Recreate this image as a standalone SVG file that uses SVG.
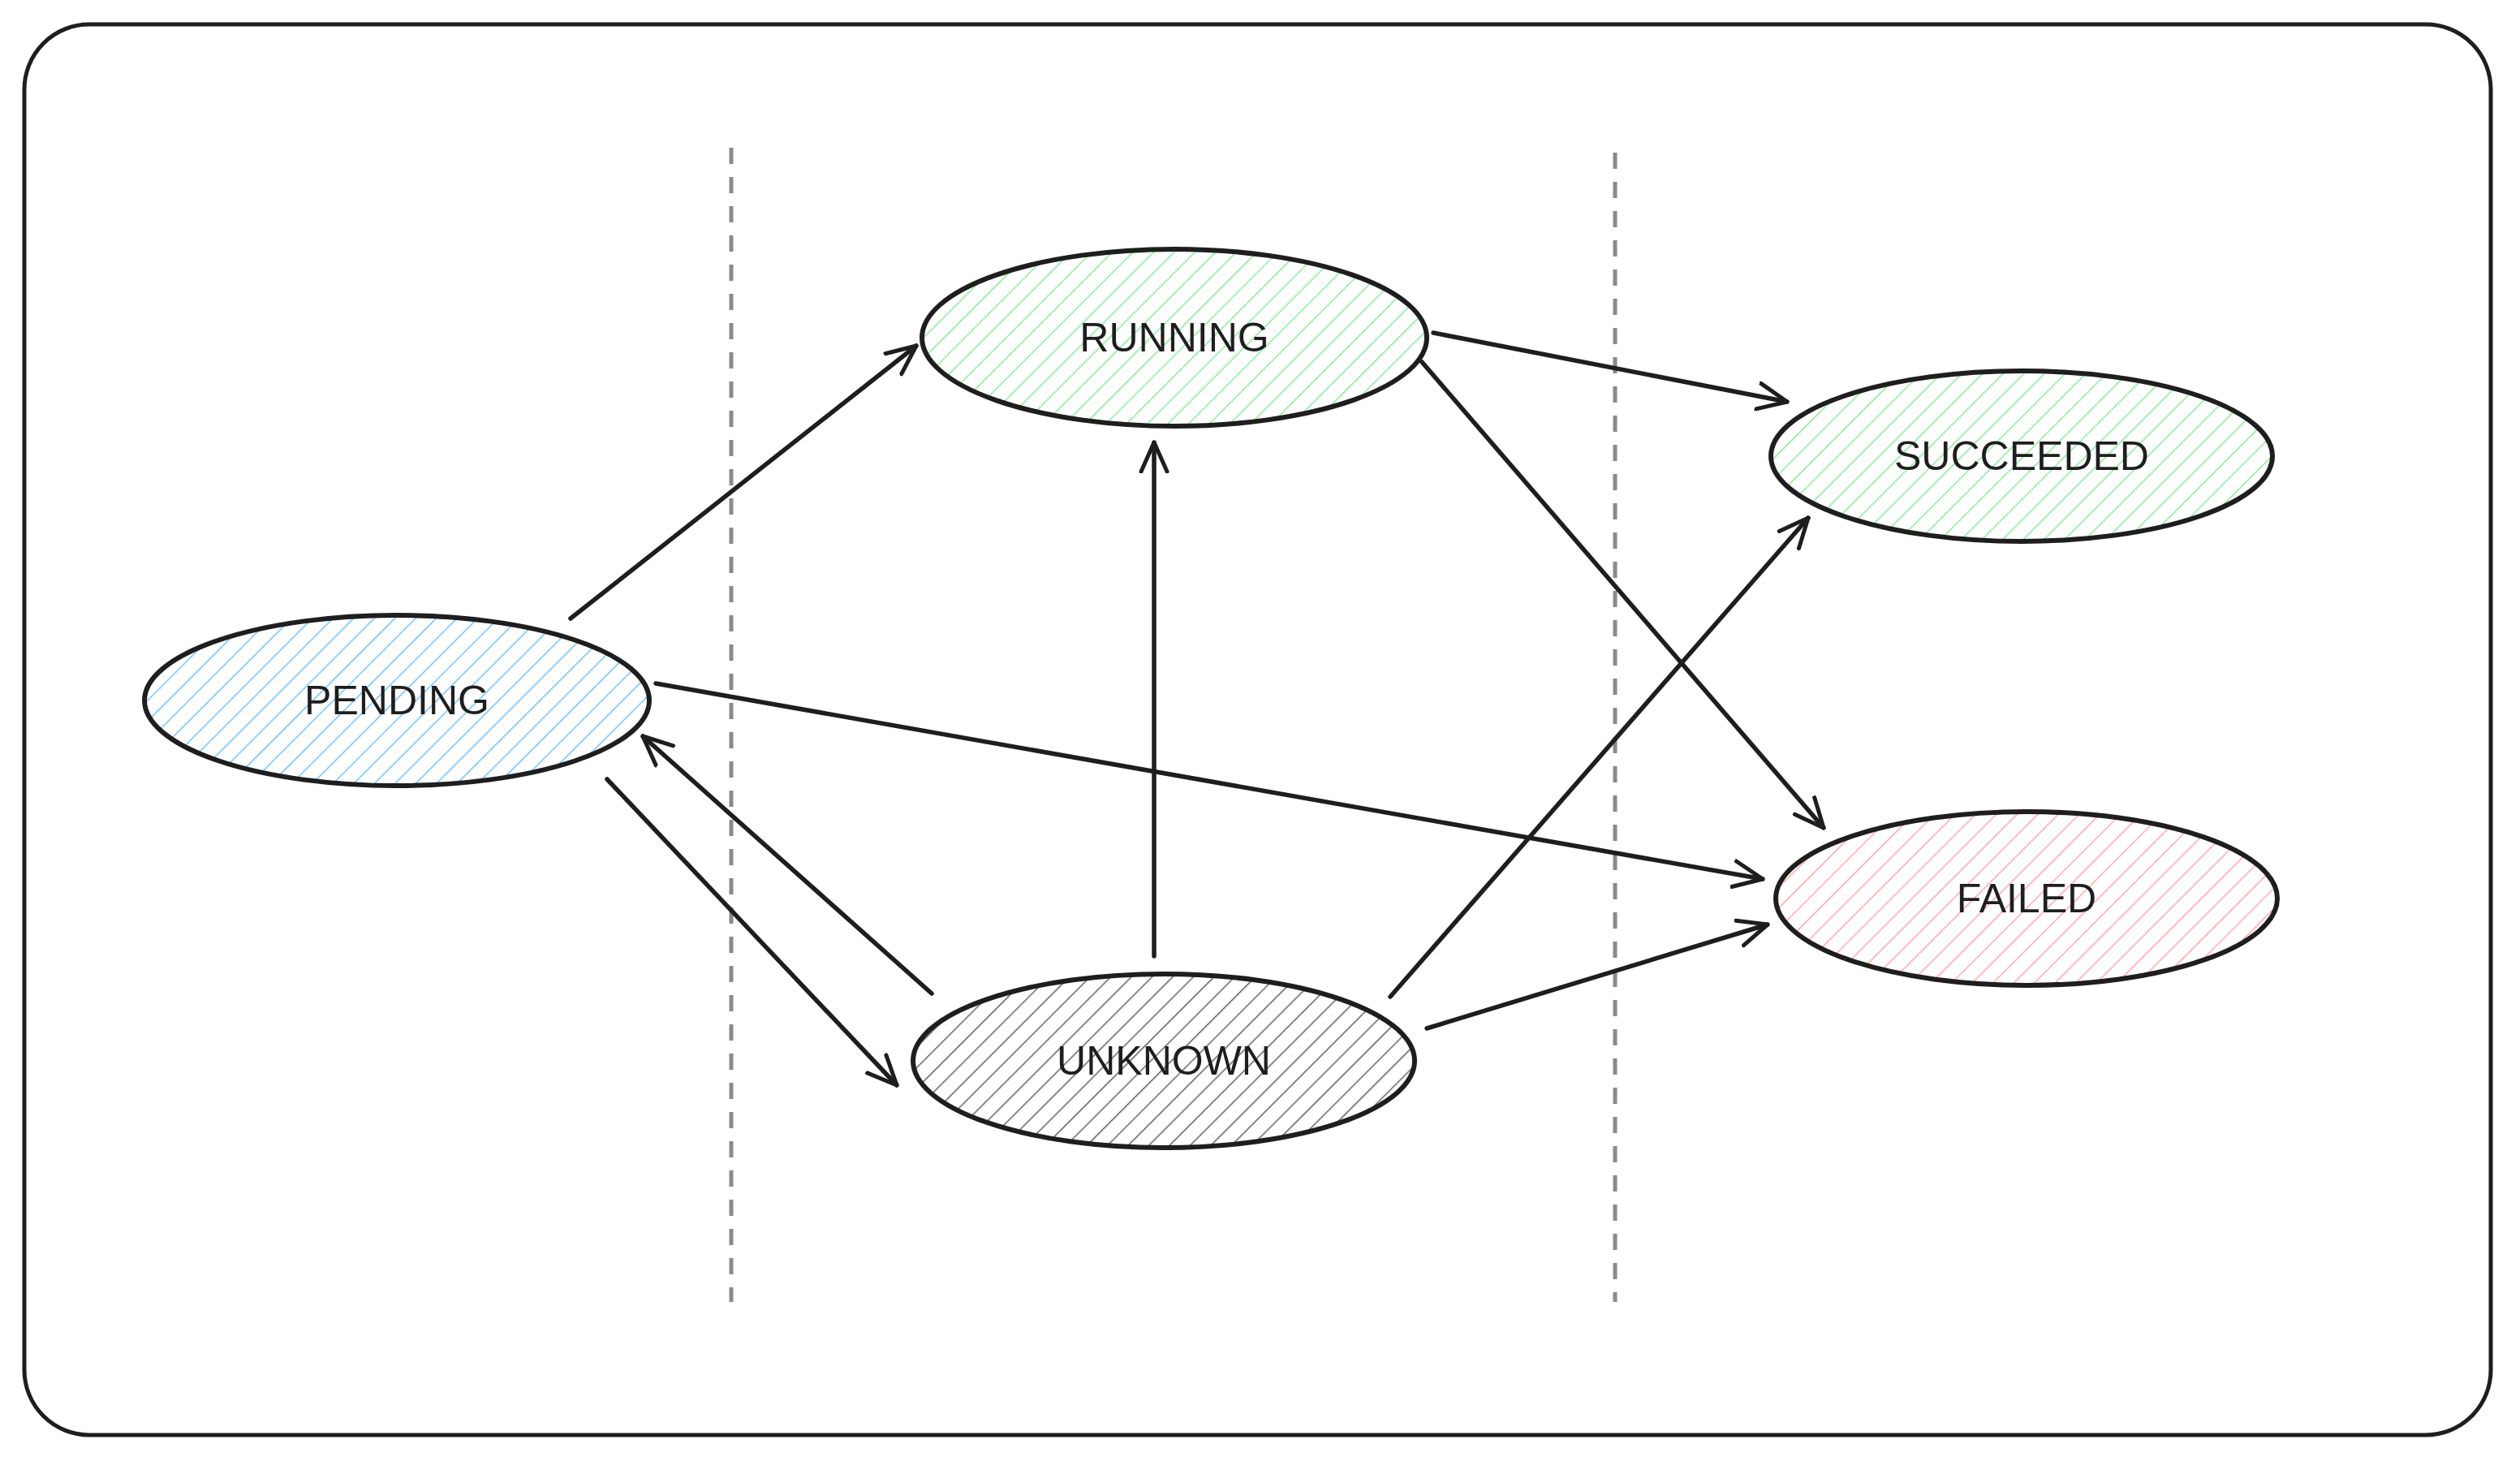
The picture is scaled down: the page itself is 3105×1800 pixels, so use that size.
<svg xmlns="http://www.w3.org/2000/svg" width="3105" height="1800" viewBox="0 0 3105 1800">
<defs>
<pattern id="hb" width="18" height="18" patternUnits="userSpaceOnUse" patternTransform="rotate(45)"><line x1="0" y1="0" x2="0" y2="18" stroke="#74c0fc" stroke-width="3"/></pattern>
<pattern id="hg" width="18" height="18" patternUnits="userSpaceOnUse" patternTransform="rotate(45)"><line x1="0" y1="0" x2="0" y2="18" stroke="#8ce99a" stroke-width="3"/></pattern>
<pattern id="hr" width="18" height="18" patternUnits="userSpaceOnUse" patternTransform="rotate(45)"><line x1="0" y1="0" x2="0" y2="18" stroke="#ffa8a8" stroke-width="3"/></pattern>
<pattern id="hk" width="18" height="18" patternUnits="userSpaceOnUse" patternTransform="rotate(45)"><line x1="0" y1="0" x2="0" y2="18" stroke="#5c636a" stroke-width="3"/></pattern>
<marker id="ar" viewBox="0 0 40 40" refX="38" refY="20" markerWidth="40" markerHeight="40" markerUnits="userSpaceOnUse" orient="auto"><path d="M2 4 L38 20 L2 36" fill="none" stroke="#1e1e1e" stroke-width="5" stroke-linecap="round" stroke-linejoin="round"/></marker>
</defs>
<style>
.n{stroke:#1e1e1e;stroke-width:6}
.t{font-family:"Liberation Sans",sans-serif;font-size:50px;fill:#1e1e1e;text-anchor:middle;dominant-baseline:central}
.c line{stroke:#1e1e1e;stroke-width:5.5;stroke-linecap:round;marker-end:url(#ar)}
.d{stroke:#8a8a8a;stroke-width:5;stroke-dasharray:20 16}
</style>
<rect x="30" y="30" width="3039" height="1738" rx="80" fill="#fff" stroke="#1e1e1e" stroke-width="5"/>
<line class="d" x1="901" y1="182" x2="901" y2="1604"/>
<line class="d" x1="1990" y1="188" x2="1990" y2="1604"/>
<g id="pending"><ellipse class="n" cx="489" cy="863" rx="311" ry="105" fill="url(#hb)"/><text class="t" x="489" y="863">PENDING</text></g>
<g id="running"><ellipse class="n" cx="1447" cy="416" rx="311" ry="109" fill="url(#hg)"/><text class="t" x="1447" y="416">RUNNING</text></g>
<g id="succeeded"><ellipse class="n" cx="2491" cy="562" rx="309" ry="105" fill="url(#hg)"/><text class="t" x="2491" y="562">SUCCEEDED</text></g>
<g id="failed"><ellipse class="n" cx="2497" cy="1107" rx="309" ry="107" fill="url(#hr)"/><text class="t" x="2497" y="1107">FAILED</text></g>
<g id="unknown"><ellipse class="n" cx="1434" cy="1307" rx="309" ry="107" fill="url(#hk)"/><text class="t" x="1434" y="1307">UNKNOWN</text></g>
<g class="c">
<line x1="703" y1="762" x2="1129" y2="426"/>
<line x1="1766" y1="410" x2="2202" y2="495"/>
<line x1="1752" y1="446" x2="2247" y2="1020"/>
<line x1="808" y1="842" x2="2172" y2="1083"/>
<line x1="748" y1="960" x2="1105" y2="1337"/>
<line x1="1148" y1="1224" x2="792" y2="907"/>
<line x1="1422" y1="1178" x2="1422" y2="545"/>
<line x1="1713" y1="1228" x2="2228" y2="638"/>
<line x1="1758" y1="1267" x2="2178" y2="1139"/>
</g>
</svg>
